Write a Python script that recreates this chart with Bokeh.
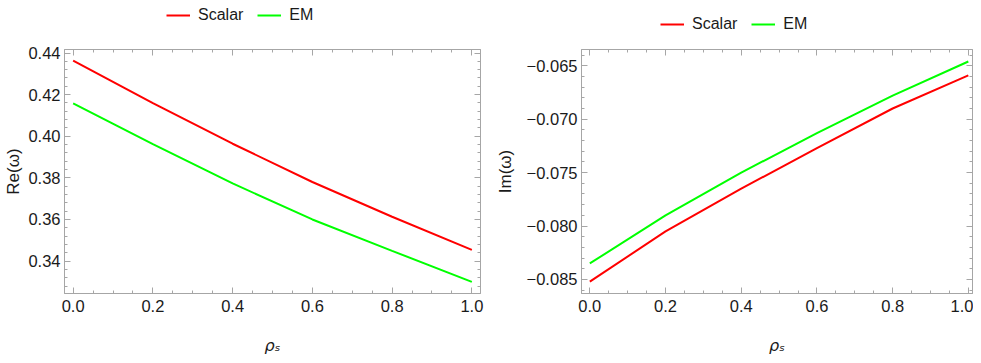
from bokeh.plotting import figure
from bokeh.layouts import row, column
from bokeh.models import (Legend, LegendItem, LinearAxis, SingleIntervalTicker,
                          CustomJSTickFormatter, Range1d, Label)
from bokeh.embed import file_html
from bokeh.resources import INLINE

# ---- data ----
rho_s = [0.0, 0.2, 0.4, 0.6, 0.8, 1.0]
re_scalar = [0.4363, 0.4159, 0.3964, 0.3780, 0.3613, 0.3454]
re_em = [0.4158, 0.3962, 0.3773, 0.3600, 0.3449, 0.3300]
im_scalar = [-0.0852, -0.0805, -0.0765, -0.0727, -0.0690, -0.0659]
im_em = [-0.0835, -0.0790, -0.0750, -0.0713, -0.0678, -0.0646]
series_names = ["Scalar", "EM"]
series_colors = ["#ff0000", "#00ff00"]
x_label = "\u03c1\u209b"

FONT = "Liberation Sans"
GRAY = "#a6a6a6"
TXT = "#1a1a1a"
TICK_FS = "16.5px"
LEG_H = 41
PLOT_H = 294
STRIP_H = 20
W1, W2 = 487, 486
BL1, BR1 = 64, 7
BL2, BR2 = 94, 1


def fmt(dec):
    return CustomJSTickFormatter(
        code="return tick.toFixed(%d).replace('-', '\\u2212');" % dec)


def style_axis(ax, ticker, formatter, show_labels=True, standoff=0):
    ax.ticker = ticker
    ax.axis_line_color = GRAY
    ax.major_tick_line_color = GRAY
    ax.minor_tick_line_color = GRAY
    ax.major_tick_in = 6
    ax.major_tick_out = 0
    ax.minor_tick_in = 3
    ax.minor_tick_out = 0
    ax.major_label_standoff = standoff
    if show_labels:
        ax.formatter = formatter
        ax.major_label_text_font = FONT
        ax.major_label_text_font_size = TICK_FS
        ax.major_label_text_color = TXT
    else:
        ax.formatter = CustomJSTickFormatter(code="return '';")
        ax.major_label_text_font_size = "1px"


def bare(width, height, xr, yr, bl=0, br=0):
    f = figure(width=width, height=height, x_range=xr, y_range=yr,
               output_backend="svg", toolbar_location=None,
               min_border_left=bl, min_border_right=br, min_border_top=0,
               min_border_bottom=0, x_axis_location=None, y_axis_location=None)
    f.grid.visible = False
    f.outline_line_color = None
    return f


def legend_fig(width, ys, leg_xy):
    # the series are drawn far outside this strip's y-range; only the legend shows
    lf = bare(width, LEG_H, Range1d(0, 1), Range1d(5, 6))
    rends = [lf.line(rho_s, yv, line_color=c, line_width=2)
             for yv, c in zip(ys, series_colors)]
    leg = Legend(items=[LegendItem(label=n, renderers=[r])
                        for n, r in zip(series_names, rends)],
                 orientation="horizontal", location=leg_xy,
                 glyph_width=24, glyph_height=20, label_standoff=8, spacing=14,
                 padding=0, margin=0, border_line_color=None,
                 background_fill_alpha=0, label_text_font=FONT,
                 label_text_font_size="16px", label_text_color=TXT,
                 label_height=20)
    lf.add_layout(leg, "center")
    return lf


def xlabel_fig(width, xr, bl, br):
    sf = bare(width, STRIP_H, xr, Range1d(0, STRIP_H), bl, br)
    sf.add_layout(Label(x=(xr.start + xr.end) / 2, y=STRIP_H / 2,
                        text=x_label, text_font="DejaVu Sans",
                        text_font_style="italic", text_font_size="16px",
                        text_color=TXT, text_align="center",
                        text_baseline="middle"))
    return sf


def make(ys, xr, yr, ydec, yint, ylabel, width, bl, bt, bb, br, ylab_standoff):
    p = figure(width=width, height=PLOT_H, x_range=xr, y_range=Range1d(*yr),
               output_backend="svg", toolbar_location=None,
               min_border_left=bl, min_border_top=bt, min_border_bottom=bb,
               min_border_right=br, x_axis_location=None, y_axis_location=None)
    p.grid.visible = False
    p.outline_line_color = GRAY
    p.background_fill_color = "white"
    p.border_fill_color = "white"

    xt = lambda: SingleIntervalTicker(interval=0.2, num_minor_ticks=4)
    yt = lambda: SingleIntervalTicker(interval=yint, num_minor_ticks=5)

    xb = LinearAxis()
    style_axis(xb, xt(), fmt(1), standoff=6)
    p.add_layout(xb, "below")

    yl = LinearAxis(axis_label=ylabel)
    style_axis(yl, yt(), fmt(ydec), standoff=4)
    yl.axis_label_text_font = FONT
    yl.axis_label_text_font_style = "normal"
    yl.axis_label_text_font_size = "17px"
    yl.axis_label_text_color = TXT
    yl.axis_label_standoff = ylab_standoff
    p.add_layout(yl, "left")

    # frame ticks on top and right (no labels)
    xa = LinearAxis()
    style_axis(xa, xt(), None, False, standoff=0)
    p.add_layout(xa, "above")
    yr_ax = LinearAxis()
    style_axis(yr_ax, yt(), None, False, standoff=0)
    p.add_layout(yr_ax, "right")

    for yv, c in zip(ys, series_colors):
        p.line(rho_s, yv, line_color=c, line_width=2)
    return p


xr1 = Range1d(-0.0217, 1.0217)
xr2 = Range1d(-0.022, 1.011)

p1 = make([re_scalar, re_em], xr1, (0.3244, 0.4417), 2, 0.02, "Re(\u03c9)",
          W1, BL1, 5, PLOT_H - 5 - 255, BR1, ylab_standoff=2)
p2 = make([im_scalar, im_em], xr2, (-0.08631, -0.06348), 3, 0.005, "Im(\u03c9)",
          W2, BL2, 8, PLOT_H - 8 - 244, BR2, ylab_standoff=9)

l1 = legend_fig(W1, [re_scalar, re_em], (166, 16))
l2 = legend_fig(W2, [im_scalar, im_em], (173, 7))

s1 = xlabel_fig(W1, xr1, BL1, BR1)
s2 = xlabel_fig(W2, xr2, BL2, BR2)

layout = column(row(l1, l2), row(p1, p2), row(s1, s2))
open("out.html", "w").write(file_html(layout, INLINE))
